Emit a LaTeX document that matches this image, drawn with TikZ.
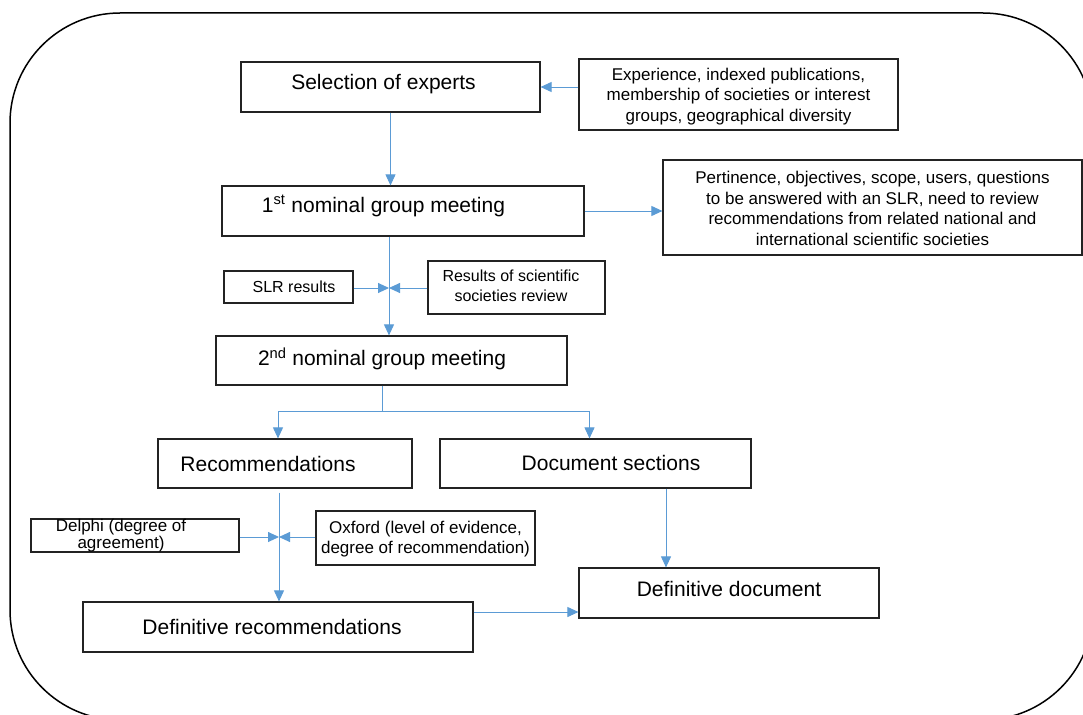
\documentclass[tikz,border=0pt]{standalone}
\usepackage{fontspec}
\setmainfont{Liberation Sans}
\usetikzlibrary{arrows.meta}
\definecolor{arrblue}{RGB}{91,155,213}
\definecolor{boxline}{RGB}{35,35,35}
\begin{document}
\begin{tikzpicture}[x=1pt,y=-1pt,
  box/.style={draw=boxline, line width=1.2pt, inner sep=0pt},
  big/.style={font=\fontsize{21}{25}\selectfont},
  small/.style={font=\fontsize{17}{20.5}\selectfont, align=center},
  mid/.style={font=\fontsize{16}{20}\selectfont, align=center},
  tight/.style={font=\fontsize{17}{14}\selectfont, align=center},
  arr/.style={draw=arrblue, line width=0.9pt, -{Triangle[length=11pt,width=10pt]}},
  ln/.style={draw=arrblue, line width=0.9pt},
  outer/.style={draw=black, line width=1.5pt, rounded corners=110pt}]
\useasboundingbox (0,0) rectangle (1083,714);
\clip (0,0) rectangle (1083,714);
\fill[white] (0,0) rectangle (1083,714);
\draw[outer] (10,13) rectangle (1093,720);

% boxes
\node[box, minimum width=299pt, minimum height=50pt,
  label={[big,xshift=-7pt,yshift=2.5pt]center:Selection of experts}] (sel) at (390.5,87) {};
\node[box, minimum width=319pt, minimum height=71pt,
  label={[small,yshift=-2pt]center:{Experience, indexed publications,\\membership of societies or interest\\groups, geographical diversity}}] (exp) at (738.5,94.5) {};
\node[box, minimum width=362pt, minimum height=50pt,
  label={[big,xshift=-19.5pt,yshift=5pt]center:{1\textsuperscript{st} nominal group meeting}}] (m1) at (403,211) {};
\node[box, minimum width=419pt, minimum height=95pt,
  label={[small,yshift=-1pt]center:{Pertinence, objectives, scope, users, questions\\to be answered with an SLR, need to review\\recommendations from related national and\\international scientific societies}}] (pert) at (872.5,207.5) {};
\node[box, minimum width=129pt, minimum height=32pt,
  label={[mid,xshift=5.5pt]center:SLR results}] (slr) at (288.5,287) {};
\node[box, minimum width=177pt, minimum height=53pt,
  label={[mid,xshift=-5.5pt,yshift=1.5pt]center:{Results of scientific\\societies review}}] (res) at (516.5,287.5) {};
\node[box, minimum width=351pt, minimum height=49pt,
  label={[big,xshift=-9.5pt,yshift=1.5pt]center:{2\textsuperscript{nd} nominal group meeting}}] (m2) at (391.5,360.5) {};
\node[box, minimum width=254pt, minimum height=49pt,
  label={[big,xshift=-17pt]center:Recommendations}] (rec) at (285,463.5) {};
\node[box, minimum width=311pt, minimum height=49pt,
  label={[big,xshift=15.5pt,yshift=1pt]center:Document sections}] (doc) at (595.5,463.5) {};
\node[box, minimum width=208pt, minimum height=33pt,
  label={[tight,xshift=-14pt]center:{Delphi (degree of\\agreement)}}] (delphi) at (135,535.5) {};
\node[box, minimum width=219pt, minimum height=54pt,
  label={[small,yshift=-1pt]center:{Oxford (level of evidence,\\degree of recommendation)}}] (oxford) at (425.5,538) {};
\node[box, minimum width=390pt, minimum height=50pt,
  label={[big,xshift=-6pt]center:Definitive recommendations}] (drec) at (278,627) {};
\node[box, minimum width=300pt, minimum height=50pt,
  label={[big,yshift=4pt]center:Definitive document}] (ddoc) at (729,593) {};

% junction coordinates
\coordinate (j1) at (389,288);
\coordinate (s) at (382,411);
\coordinate (j2) at (279,537);
\coordinate (c3) at (666,0);
\coordinate (c4) at (0,612);

% connectors
\draw[arr] (sel.east -| exp.west) -- (sel.east);
\draw[arr] (sel.south) -- (sel.south |- m1.north);
\draw[arr] (m1.east) -- (m1.east -| pert.west);
\draw[arr] (m1.south -| j1) -- (m2.north -| j1);
\draw[arr] (slr.east |- j1) -- (j1);
\draw[arr] (res.west |- j1) -- (j1);
\draw[ln] (m2.south -| s) -- (s);
\draw[arr] (s) -| ([xshift=-7pt]rec.north);
\draw[arr] (s) -| ([xshift=-6pt]doc.north);
\draw[arr] ([yshift=-4pt]rec.south -| j2) -- (drec.north -| j2);
\draw[arr] (delphi.east |- j2) -- (j2);
\draw[arr] (oxford.west |- j2) -- (j2);
\draw[arr] (doc.south -| c3) -- (ddoc.north -| c3);
\draw[arr] (drec.east |- c4) -- (ddoc.west |- c4);
\end{tikzpicture}
\end{document}
